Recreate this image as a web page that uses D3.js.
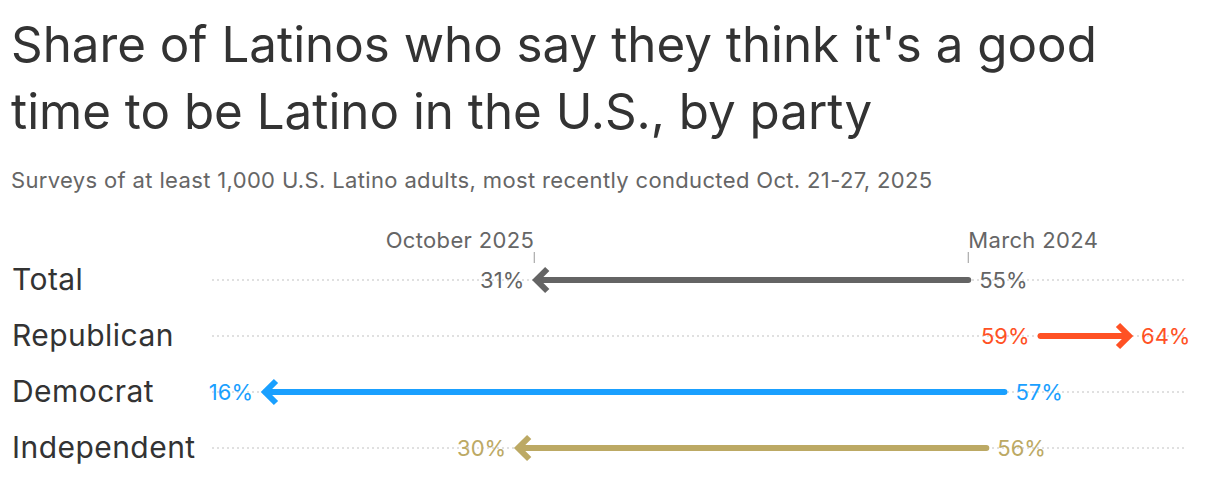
<!DOCTYPE html>
<html>
<head>
<meta charset="utf-8">
<script src="https://cdn.jsdelivr.net/npm/d3@7"></script>
<style>
  html, body { margin: 0; padding: 0; background: #fff; }
  svg { display: block; }
  text { font-family: Inter, "Noto Sans", sans-serif; }
</style>
</head>
<body>
<svg id="chart" width="1220" height="480"></svg>
<script>
const categories = ["Total", "Republican", "Democrat", "Independent"];
const march2024 = [55, 59, 57, 56];
const october2025 = [31, 64, 16, 30];
const colors = ["#646464", "#ff5124", "#1aa0ff", "#bca964"];
const periodLabels = ["October 2025", "March 2024"];
const titleLines = ["Share of Latinos who say they think it's a good", "time to be Latino in the U.S., by party"];
const subtitle = "Surveys of at least 1,000 U.S. Latino adults, most recently conducted Oct. 21-27, 2025";

const svg = d3.select("#chart");

svg.append("g").selectAll("text").data(titleLines).join("text")
  .attr("x", 11).attr("y", (d, i) => 62 + i * 67)
  .attr("font-size", 49.3).attr("fill", "#333")
  .text(d => d);

svg.append("text").attr("x", 11).attr("y", 188)
  .attr("font-size", 22).attr("fill", "#666").attr("letter-spacing", 0.35)
  .text(subtitle);

const x = d3.scaleLinear().domain([16, 64]).range([263, 1131]);
const y = d3.scalePoint().domain(categories).range([280, 448]);
const gridX = [212, 1187];

const rows = categories.map((c, i) => ({ c, from: march2024[i], to: october2025[i], color: colors[i] }));

// gridlines
svg.append("g").selectAll("line").data(rows).join("line")
  .attr("x1", gridX[0]).attr("x2", gridX[1])
  .attr("y1", d => y(d.c)).attr("y2", d => y(d.c))
  .attr("stroke", "#d6d6d6").attr("stroke-width", 1.3).attr("stroke-dasharray", "2,3");

// category labels
svg.append("g").selectAll("text").data(rows).join("text")
  .attr("x", 12).attr("y", d => y(d.c) + 10)
  .attr("font-size", 30).attr("fill", "#333").attr("letter-spacing", 0.45)
  .text(d => d.c);

// period axis labels from Total row
const tot = rows[0];
const axisG = svg.append("g");
[[tot.to, periodLabels[0], "end"], [tot.from, periodLabels[1], "start"]].forEach(([v, lab, anchor]) => {
  axisG.append("line").attr("x1", x(v)).attr("x2", x(v)).attr("y1", 252).attr("y2", 263)
    .attr("stroke", "#999").attr("stroke-width", 1);
  axisG.append("text").attr("x", x(v)).attr("y", 248).attr("text-anchor", anchor)
    .attr("font-size", 22).attr("fill", "#666").attr("letter-spacing", 0.35).text(lab);
});

// arrows
const arr = svg.append("g");
rows.forEach(d => {
  const dir = d.to > d.from ? 1 : -1;
  const x0 = x(d.from), x1 = x(d.to), yy = y(d.c);
  arr.append("line").attr("x1", x0).attr("x2", x1 - dir * 3).attr("y1", yy).attr("y2", yy)
    .attr("stroke", d.color).attr("stroke-width", 6).attr("stroke-linecap", "round");
  const hx = x1 - dir * 2;
  arr.append("path")
    .attr("d", `M${hx - dir * 11},${yy - 11}L${hx},${yy}L${hx - dir * 11},${yy + 11}`)
    .attr("fill", "none").attr("stroke", d.color).attr("stroke-width", 6)
    .attr("stroke-linejoin", "miter").attr("stroke-linecap", "butt");
  arr.append("text").attr("x", x0 - dir * 11).attr("y", yy + 8)
    .attr("text-anchor", dir > 0 ? "end" : "start")
    .attr("font-size", 22).attr("fill", d.color).text(d.from + "%");
  arr.append("text").attr("x", x1 + dir * 10).attr("y", yy + 8)
    .attr("text-anchor", dir > 0 ? "start" : "end")
    .attr("font-size", 22).attr("fill", d.color).text(d.to + "%");
});
</script>
</body>
</html>
